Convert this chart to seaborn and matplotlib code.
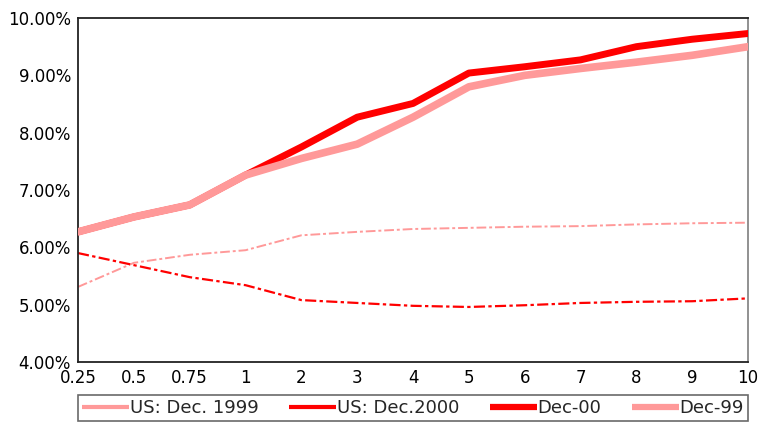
import matplotlib
matplotlib.use("Agg")
import matplotlib.pyplot as plt
import seaborn as sns
import pandas as pd
from matplotlib.ticker import FuncFormatter

maturities = ["0.25", "0.5", "0.75", "1", "2", "3", "4", "5", "6", "7", "8", "9", "10"]
us_dec_1999 = [5.31, 5.73, 5.87, 5.95, 6.21, 6.27, 6.32, 6.34, 6.36, 6.37, 6.40, 6.42, 6.43]
us_dec_2000 = [5.90, 5.69, 5.48, 5.34, 5.08, 5.03, 4.98, 4.96, 4.99, 5.03, 5.05, 5.06, 5.11]
dec_00 = [6.27, 6.53, 6.74, 7.26, 7.75, 8.27, 8.51, 9.04, 9.15, 9.27, 9.50, 9.63, 9.73]
dec_99 = [6.27, 6.53, 6.74, 7.26, 7.55, 7.80, 8.27, 8.80, 9.00, 9.12, 9.23, 9.35, 9.50]
series_names = ["US: Dec. 1999", "US: Dec.2000", "Dec-00", "Dec-99"]

sns.set_theme(style="white")
plt.rcParams["font.family"] = ["DejaVu Sans"]

fig = plt.figure(figsize=(7.68, 4.23), dpi=100)
ax = fig.add_axes([0.1016, 0.1442, 0.8724, 0.8132])

styles = {
    "US: Dec. 1999": dict(color="#FF9999", lw=1.4, ls=(0, (5, 1.5, 1.5, 1.5)), zorder=2, hlw=3.0),
    "US: Dec.2000": dict(color="#FF0000", lw=1.6, ls=(0, (5, 1.5, 1.5, 1.5)), zorder=2, hlw=3.0),
    "Dec-00": dict(color="#FF0000", lw=5.0, ls="-", zorder=3, hlw=4.5),
    "Dec-99": dict(color="#FF9999", lw=5.5, ls="-", zorder=4, hlw=4.5),
}
data = {"US: Dec. 1999": us_dec_1999, "US: Dec.2000": us_dec_2000,
        "Dec-00": dec_00, "Dec-99": dec_99}

for name in series_names:
    df = pd.DataFrame({"maturity": maturities, "yield": data[name]})
    st = styles[name]
    sns.lineplot(data=df, x="maturity", y="yield", ax=ax, color=st["color"],
                 linewidth=st["lw"], linestyle=st["ls"], zorder=st["zorder"],
                 label=name, sort=False)

ax.set_ylim(4, 10)
ax.set_xlim(0, len(maturities) - 1)
ax.set_yticks([4, 5, 6, 7, 8, 9, 10])
ax.yaxis.set_major_formatter(FuncFormatter(lambda v, p: f"{v:.2f}%"))
ax.set_xlabel("")
ax.set_ylabel("")
ax.tick_params(axis="both", direction="inout", length=6, width=1, colors="black",
               labelsize=12, pad=2)
for side in ["left", "bottom", "top"]:
    ax.spines[side].set_color("#222222")
    ax.spines[side].set_linewidth(1.3)
ax.spines["right"].set_color("#888888")
ax.spines["right"].set_linewidth(1.3)

handles, labels = ax.get_legend_handles_labels()
order = [labels.index(n) for n in series_names]
leg = ax.legend([handles[i] for i in order], [labels[i] for i in order],
                loc="lower left", bbox_to_anchor=(0.1016, 0.004, 0.8724, 0.07),
                bbox_transform=fig.transFigure, mode="expand", ncol=4,
                borderaxespad=0.0,
                frameon=True, fancybox=False, fontsize=13, handlelength=2.6,
                handletextpad=0.05, borderpad=0.22, columnspacing=0.3)
leg.get_frame().set_edgecolor("#444444")
leg.get_frame().set_linewidth(1.2)
for lh, name in zip(leg.get_lines(), series_names):
    lh.set_linestyle("-")
    lh.set_linewidth(styles[name]["hlw"])
    lh.set_solid_capstyle("butt")

fig.savefig("out.png", dpi=100)
